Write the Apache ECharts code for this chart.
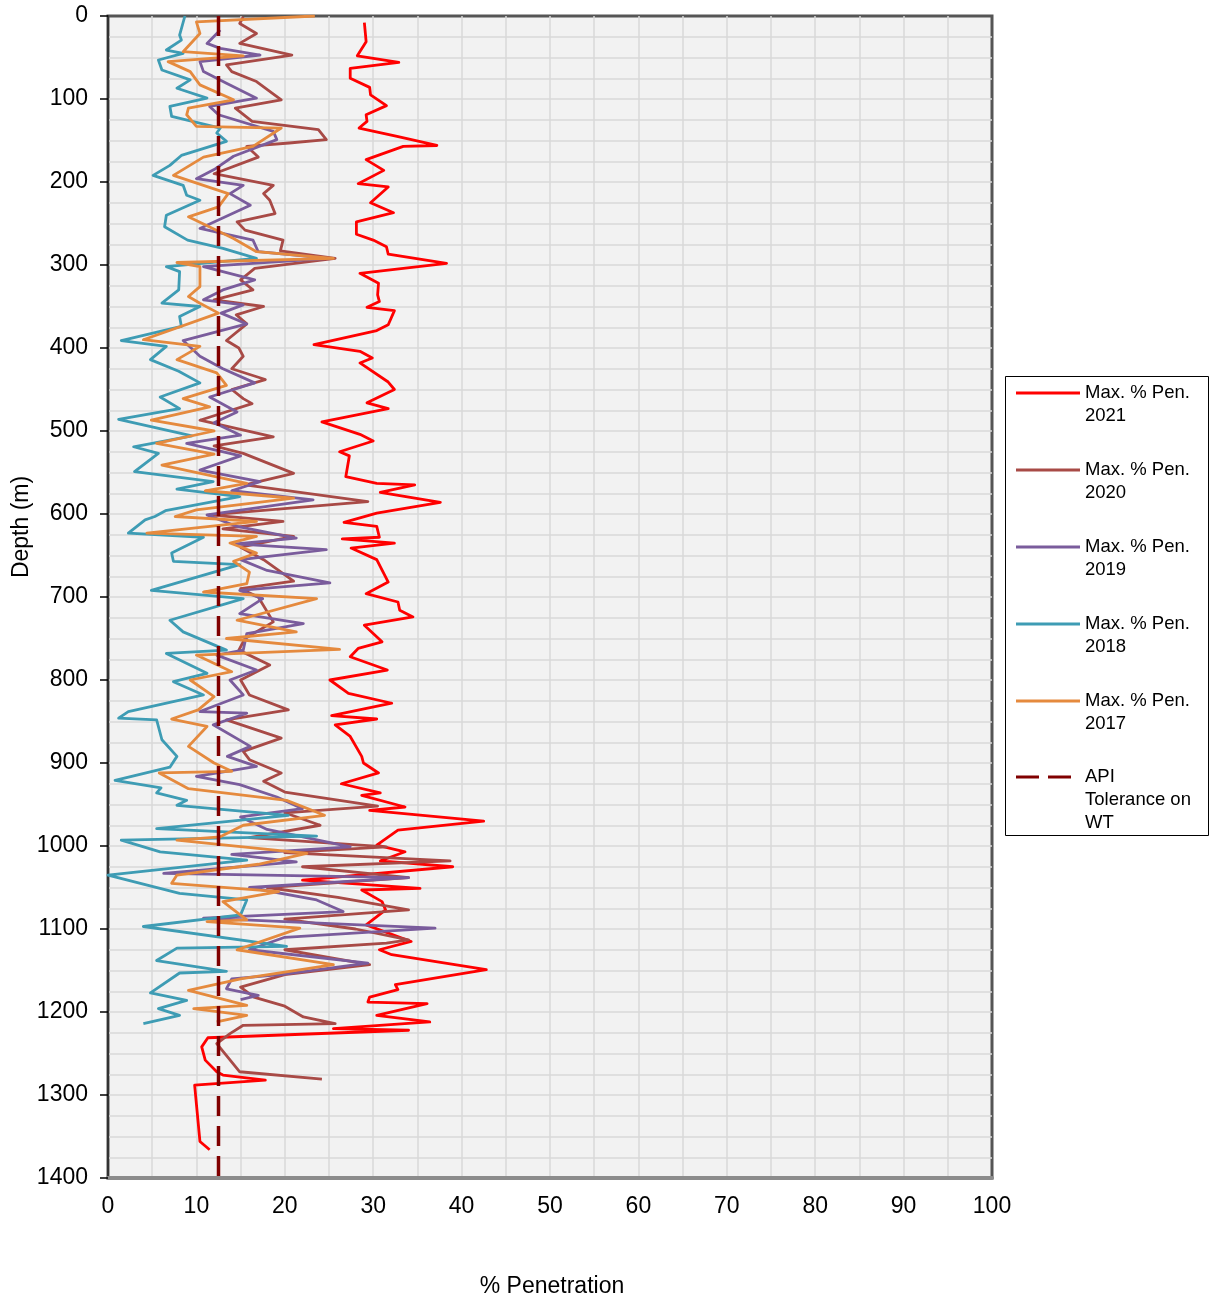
<!DOCTYPE html>
<html>
<head>
<meta charset="utf-8">
<title>% Penetration vs Depth</title>
<script src="https://cdn.jsdelivr.net/npm/echarts@6/dist/echarts.min.js"></script>
<style>
  html, body { margin: 0; padding: 0; background: #ffffff; }
  #chart { width: 1215px; height: 1303px; }
</style>
</head>
<body>
<div id="chart"></div>
<script>
// Inspection survey results: [depth (m), max % penetration]
const pen2021 = [[8,29.0],[31,29.2],[48,28.2],[56,32.9],[63,27.4],[75,27.4],[86,29.6],[95,29.7],[108,31.5],[119,29.2],[127,29.3],[135,28.4],[145,32.7],[156,37.2],[157,33.4],[173,29.2],[186,31.2],[202,28.3],[206,31.7],[225,29.7],[237,32.3],[248,28.1],[263,28.1],[270,30.0],[278,31.5],[287,31.7],[298,38.3],[310,28.5],[322,30.6],[336,30.5],[344,30.7],[351,29.3],[355,32.4],[372,31.7],[379,30.4],[396,23.3],[404,28.5],[412,29.9],[418,28.5],[441,31.7],[450,32.4],[466,29.3],[473,31.7],[489,24.2],[504,28.5],[512,30.0],[525,26.2],[530,27.3],[555,26.9],[563,30.4],[565,34.7],[574,30.8],[586,37.6],[599,30.4],[610,26.7],[615,30.4],[628,30.7],[630,26.5],[635,32.4],[641,27.5],[655,30.4],[682,31.7],[696,29.2],[706,32.8],[716,33.0],[724,34.5],[734,29.0],[754,31.0],[762,28.3],[772,27.4],[788,31.6],[800,25.1],[816,27.2],[828,32.1],[843,25.3],[847,30.4],[854,25.7],[868,27.4],[892,28.7],[900,28.9],[912,30.6],[925,26.4],[936,30.8],[939,28.7],[953,33.6],[957,29.6],[970,42.5],[981,32.8],[999,30.4],[1007,33.6],[1018,30.8],[1025,39.0],[1041,22.0],[1051,35.3],[1053,28.7],[1067,31.0],[1077,31.4],[1095,29.2],[1115,34.3],[1125,30.7],[1131,32.1],[1149,42.8],[1167,32.5],[1173,32.8],[1182,29.6],[1188,29.4],[1190,36.1],[1204,30.4],[1212,36.4],[1220,25.5],[1222,34.0],[1231,11.3],[1242,10.6],[1258,11.0],[1272,12.3],[1276,13.0],[1282,17.8],[1288,9.8],[1356,10.4],[1366,11.5]];

const pen2020 = [[1,15.3],[9,14.9],[21,16.8],[33,14.9],[47,20.8],[59,13.4],[67,14.0],[79,16.8],[101,19.6],[111,14.4],[127,16.3],[137,23.8],[149,24.7],[153,20.5],[157,15.7],[170,17.0],[190,12.0],[204,18.7],[214,17.6],[222,18.3],[238,18.9],[248,14.6],[258,15.5],[270,19.8],[283,19.5],[292,25.7],[304,16.6],[318,15.0],[330,16.4],[342,12.0],[350,17.6],[360,14.5],[371,15.7],[391,13.4],[400,14.8],[410,15.3],[425,14.0],[438,17.8],[450,14.0],[461,15.3],[467,16.3],[487,10.4],[507,18.7],[518,12.0],[527,15.3],[551,21.0],[565,15.5],[585,29.4],[601,11.5],[609,19.8],[618,13.0],[627,21.0],[640,15.0],[655,17.6],[681,21.0],[690,15.0],[700,17.0],[730,18.7],[750,15.5],[764,14.8],[782,18.3],[800,15.0],[818,16.0],[836,20.4],[848,13.4],[870,19.6],[886,15.3],[896,16.0],[912,19.6],[922,17.6],[935,20.0],[952,30.5],[960,20.0],[975,24.0],[990,16.0],[1001,31.5],[1008,20.0],[1018,38.7],[1025,22.0],[1038,34.0],[1050,18.0],[1062,26.0],[1077,34.0],[1088,20.0],[1100,28.0],[1113,34.0],[1117,31.5],[1125,20.0],[1143,29.6],[1155,20.0],[1170,15.0],[1182,16.5],[1193,20.0],[1206,22.1],[1214,25.7],[1216,15.3],[1226,13.8],[1238,12.3],[1272,14.9],[1281,24.2]];

const pen2019 = [[17,12.7],[33,11.2],[39,12.7],[47,17.2],[55,10.4],[67,10.8],[81,13.4],[99,16.8],[109,11.5],[119,12.5],[139,18.7],[149,19.1],[169,14.2],[185,12.0],[196,10.0],[204,15.3],[214,13.8],[228,16.1],[256,10.4],[270,16.4],[284,17.0],[292,25.0],[302,10.8],[318,16.6],[330,13.0],[342,10.8],[348,15.3],[358,12.8],[371,15.7],[391,8.5],[410,10.4],[425,13.0],[442,16.6],[459,11.5],[477,14.6],[490,12.0],[505,15.0],[515,8.9],[530,15.0],[547,10.4],[561,17.2],[572,14.0],[583,23.2],[601,11.2],[615,14.6],[629,21.3],[636,14.5],[643,24.7],[655,15.0],[668,18.0],[683,25.1],[692,14.9],[702,17.5],[720,14.9],[732,22.1],[744,15.7],[764,15.3],[770,12.3],[788,16.8],[800,13.8],[818,15.3],[838,10.4],[840,15.7],[854,11.9],[880,16.1],[892,13.5],[904,16.8],[916,10.0],[926,14.9],[941,19.1],[955,22.0],[965,15.0],[980,18.0],[1001,27.4],[1010,14.0],[1019,21.3],[1033,6.3],[1038,34.0],[1050,16.0],[1065,23.6],[1079,26.6],[1087,10.8],[1099,37.0],[1110,20.0],[1125,16.0],[1141,29.4],[1155,19.5],[1160,14.0],[1172,13.4],[1180,17.0],[1185,15.0]];

const pen2018 = [[0,8.7],[23,8.1],[29,8.3],[41,6.6],[45,8.5],[53,5.7],[65,6.1],[77,9.3],[87,7.8],[99,11.2],[109,7.0],[121,7.2],[135,12.7],[141,12.3],[151,13.4],[168,8.3],[180,7.0],[192,5.1],[204,8.5],[216,8.9],[222,10.4],[240,6.6],[254,6.4],[270,9.0],[280,13.0],[292,16.8],[302,6.6],[308,8.1],[330,8.0],[346,6.1],[350,10.4],[362,8.1],[374,8.3],[391,1.5],[398,6.6],[414,4.8],[428,8.0],[442,10.4],[459,5.9],[473,8.1],[486,1.2],[506,9.5],[519,2.9],[527,5.7],[549,3.0],[561,11.9],[570,7.8],[579,14.9],[596,6.5],[603,5.3],[607,4.2],[623,2.3],[628,10.8],[647,7.2],[657,7.4],[661,14.9],[692,4.9],[702,15.3],[728,7.0],[742,8.5],[764,13.4],[768,6.6],[792,11.2],[802,7.4],[818,10.8],[838,2.3],[846,1.2],[848,5.5],[872,6.1],[892,7.8],[905,7.0],[921,0.8],[930,6.0],[936,5.5],[945,8.9],[951,7.8],[963,20.4],[979,5.5],[988,23.6],[993,1.5],[1007,5.9],[1017,15.7],[1035,0.0],[1057,8.1],[1065,15.7],[1083,15.0],[1097,4.0],[1121,20.2],[1123,7.8],[1138,5.5],[1151,13.4],[1153,8.1],[1177,4.8],[1186,8.9],[1196,5.7],[1204,8.1],[1214,4.0]];

const pen2017 = [[0,23.4],[7,10.0],[21,10.4],[43,8.5],[48,15.3],[55,6.8],[67,9.3],[83,10.4],[101,14.2],[111,9.1],[119,8.9],[133,10.0],[135,19.6],[157,16.4],[170,10.8],[192,7.4],[214,13.6],[230,12.5],[242,9.1],[268,14.2],[284,16.8],[292,25.5],[297,7.8],[302,10.4],[326,10.4],[338,9.1],[346,10.4],[358,12.5],[390,4.0],[398,10.4],[414,7.8],[430,12.3],[445,13.4],[461,8.5],[471,11.5],[487,4.9],[500,12.0],[515,5.5],[528,12.0],[541,6.1],[563,15.7],[572,11.0],[581,21.0],[595,10.0],[603,7.6],[609,16.8],[623,4.4],[627,16.8],[635,13.8],[647,16.8],[657,14.2],[670,16.0],[684,15.7],[694,10.8],[702,23.6],[728,14.6],[742,21.3],[750,13.4],[763,26.2],[770,10.0],[790,14.0],[800,9.3],[820,12.0],[836,10.2],[847,7.2],[856,11.2],[880,9.1],[900,12.0],[910,14.0],[912,5.8],[931,9.1],[945,20.2],[963,24.5],[975,15.3],[989,12.7],[993,7.8],[1009,22.5],[1022,17.0],[1035,7.8],[1045,7.2],[1055,19.3],[1067,13.0],[1089,15.7],[1091,11.2],[1099,21.7],[1125,14.6],[1143,25.5],[1160,15.0],[1174,9.1],[1192,15.7],[1196,9.7],[1204,15.7],[1212,12.3]];

// API wall-thickness tolerance (constant % over full depth)
const apiTolerance = [[0,12.5],[1400,12.5]];

const seriesNames = ['Max. % Pen. 2021','Max. % Pen. 2020','Max. % Pen. 2019','Max. % Pen. 2018','Max. % Pen. 2017'];
const apiName = 'API Tolerance on WT';
const seriesColors = ['#ff0000','#a84a46','#7a5c9c','#3e9cb4','#e58a3e'];
const apiColor = '#800000';
const surveys = [pen2021, pen2020, pen2019, pen2018, pen2017];

const FONT = '"Liberation Sans", Arial, sans-serif';

// legend keys: a solid bar and a two-dash bar
const SOLID_KEY = 'path://M0,0H64V3H0Z';
const DASH_KEY = 'path://M0,0H23V3H0Z M32,0H55V3H32Z M63.9,1.45H64V1.55H63.9Z';

// depth goes on the vertical axis, % on the horizontal
const toXY = rows => rows.map(r => [r[1], r[0]]);

const lineSeries = surveys.map((rows, i) => ({
  name: seriesNames[i],
  type: 'line',
  data: toXY(rows),
  symbol: 'none',
  showSymbol: false,
  animation: false,
  lineStyle: { color: seriesColors[i], width: 2.8, join: 'round' },
  itemStyle: { color: seriesColors[i] }
}));

lineSeries.push({
  name: apiName,
  type: 'line',
  data: toXY(apiTolerance),
  symbol: 'none',
  animation: false,
  lineStyle: { color: apiColor, width: 3.5, type: [20, 10] },
  itemStyle: { color: apiColor }
});

const legendText = {
  fontFamily: FONT, fontSize: 18.5, lineHeight: 23, color: '#000'
};

const chart = echarts.init(document.getElementById('chart'), null, { renderer: 'canvas' });
chart.setOption({
  backgroundColor: '#ffffff',
  animation: false,
  grid: {
    left: 108, right: 223, top: 16, bottom: 125,
    show: true, backgroundColor: '#f2f2f2', borderColor: '#555555', borderWidth: 3
  },
  xAxis: {
    type: 'value', min: 0, max: 100, interval: 10,
    axisLine: { show: true, onZero: false, lineStyle: { color: '#8c8c8c', width: 4 } },
    axisTick: { show: false },
    axisLabel: { fontFamily: FONT, fontSize: 23, color: '#000', margin: 17 },
    splitLine: { show: true, showMinLine: false, showMaxLine: false, lineStyle: { color: '#d9d9d9', width: 1.5 } },
    minorTick: { show: false, splitNumber: 2 },
    minorSplitLine: { show: true, lineStyle: { color: '#d9d9d9', width: 1.5 } }
  },
  yAxis: {
    type: 'value', inverse: true, min: 0, max: 1400, interval: 100,
    axisLine: { show: true, onZero: false, lineStyle: { color: '#333333', width: 2 } },
    axisTick: { show: true, inside: false, length: 8, lineStyle: { color: '#000', width: 1.5 } },
    axisLabel: { fontFamily: FONT, fontSize: 23, color: '#000', margin: 20, formatter: v => String(v) },
    splitLine: { show: true, showMinLine: false, showMaxLine: false, lineStyle: { color: '#d9d9d9', width: 1.5 } },
    minorTick: { show: false, splitNumber: 4 },
    minorSplitLine: { show: true, lineStyle: { color: '#d9d9d9', width: 1.5 } }
  },
  legend: [
    {
      data: seriesNames.map(n => ({ name: n, icon: SOLID_KEY })),
      orient: 'vertical', left: 1016, top: 358.5, padding: 0,
      itemWidth: 64, itemHeight: 3, itemGap: 8,
      textStyle: legendText,
      formatter: name => '\n' + name.replace(' 2', '\n2')
    },
    {
      data: [{ name: apiName, icon: DASH_KEY }],
      orient: 'vertical', left: 1016, top: 719.5, padding: 0,
      itemWidth: 64, itemHeight: 3, itemGap: 8,
      textStyle: legendText,
      formatter: () => '\n\nAPI\nTolerance on\nWT'
    }
  ],
  graphic: [
    {
      type: 'rect', silent: true, z: 100,
      shape: { x: 1005.5, y: 376.5, width: 203, height: 459 },
      style: { fill: 'none', stroke: '#000', lineWidth: 1 }
    },
    {
      type: 'text', silent: true, x: 552, y: 1287,
      style: { text: '% Penetration', fontFamily: FONT, fontSize: 23, fill: '#000',
               textAlign: 'center', textVerticalAlign: 'middle' }
    },
    {
      type: 'text', silent: true, x: 22, y: 527, rotation: Math.PI / 2,
      style: { text: 'Depth (m)', fontFamily: FONT, fontSize: 23, fill: '#000',
               textAlign: 'center', textVerticalAlign: 'middle' }
    }
  ],
  series: lineSeries
});
</script>
</body>
</html>
